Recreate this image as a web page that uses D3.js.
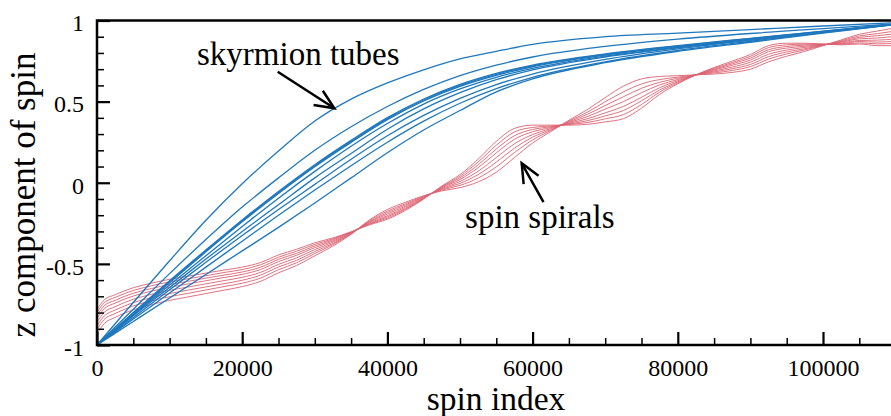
<!DOCTYPE html>
<html>
<head>
<meta charset="utf-8">
<script src="https://cdn.jsdelivr.net/npm/d3@7"></script>
<style>
body { margin: 0; background: #fff; }
</style>
</head>
<body>
<svg id="chart" width="891" height="416"></svg>
<script>
// tick values
var xTicks = [0, 20000, 40000, 60000, 80000, 100000]
var xMinor = [5000, 10000, 15000, 25000, 30000, 35000, 45000, 50000, 55000, 65000, 70000, 75000, 85000, 90000, 95000, 105000]
var yTicks = [-1, -0.5, 0, 0.5, 1]
var yMinor = [-0.9, -0.8, -0.7, -0.6, -0.4, -0.3, -0.2, -0.1, 0.1, 0.2, 0.3, 0.4, 0.6, 0.7, 0.8, 0.9]

// skyrmion tubes (blue)
var blueX = [0, 5000, 10000, 15000, 20000, 25000, 30000, 35000, 40000, 45000, 50000, 55000, 60000, 70000, 80000, 90000, 100000, 110000]
var tube1 = [-1, -0.738, -0.481, -0.231, -0.006, 0.195, 0.38, 0.515, 0.615, 0.696, 0.763, 0.81, 0.853, 0.9, 0.922, 0.944, 0.966, 0.987]
var tube2 = [-1, -0.78, -0.56, -0.35, -0.15, 0.03, 0.2, 0.345, 0.47, 0.575, 0.66, 0.725, 0.775, 0.84, 0.885, 0.92, 0.95, 0.98]
// three nearly coincident tubes make the thick line
var tube3 = [-1, -0.8, -0.604, -0.414, -0.229, -0.054, 0.111, 0.261, 0.401, 0.516, 0.606, 0.674, 0.725, 0.794, 0.845, 0.89, 0.934, 0.978]
var tube4 = [-1, -0.805, -0.61, -0.42, -0.235, -0.06, 0.105, 0.255, 0.395, 0.51, 0.6, 0.668, 0.72, 0.79, 0.842, 0.888, 0.933, 0.977]
var tube5 = [-1, -0.81, -0.616, -0.426, -0.241, -0.066, 0.099, 0.249, 0.389, 0.504, 0.594, 0.662, 0.715, 0.786, 0.839, 0.886, 0.932, 0.977]
var tube6 = [-1, -0.815, -0.63, -0.45, -0.27, -0.095, 0.07, 0.225, 0.365, 0.485, 0.578, 0.65, 0.705, 0.78, 0.835, 0.884, 0.93, 0.977]
var tube7 = [-1, -0.82, -0.645, -0.47, -0.3, -0.135, 0.03, 0.18, 0.33, 0.455, 0.555, 0.635, 0.695, 0.775, 0.832, 0.882, 0.93, 0.977]
var tube8 = [-1, -0.83, -0.66, -0.49, -0.325, -0.165, -0.01, 0.145, 0.29, 0.415, 0.52, 0.605, 0.67, 0.76, 0.825, 0.878, 0.928, 0.976]
var tube9 = [-1, -0.84, -0.68, -0.52, -0.36, -0.2, -0.045, 0.105, 0.25, 0.38, 0.49, 0.58, 0.65, 0.745, 0.815, 0.872, 0.925, 0.976]
var tube10 = [-1, -0.855, -0.71, -0.565, -0.42, -0.275, -0.125, 0.03, 0.185, 0.325, 0.445, 0.56, 0.64, 0.74, 0.81, 0.866, 0.922, 0.975]

// spin spirals (red)
var redX = [0, 1000, 2500, 5000, 7500, 10000, 12500, 15000, 17500, 20000, 22500, 25000, 27500, 30000, 32500, 35000, 37500, 40000, 42500, 45000, 47500, 50000, 52500, 55000, 57500, 60000, 62500, 65000, 67500, 70000, 72500, 75000, 77500, 80000, 82500, 85000, 87500, 90000, 92500, 95000, 97500, 100000, 102500, 105000, 107500, 110000]
var spiral1 = [-0.78, -0.722, -0.69, -0.647, -0.619, -0.595, -0.576, -0.557, -0.538, -0.52, -0.492, -0.445, -0.41, -0.37, -0.34, -0.302, -0.26, -0.225, -0.17, -0.1, -0.02, 0.05, 0.145, 0.255, 0.335, 0.355, 0.355, 0.355, 0.36, 0.375, 0.395, 0.46, 0.545, 0.61, 0.665, 0.71, 0.75, 0.79, 0.845, 0.86, 0.86, 0.855, 0.85, 0.855, 0.845, 0.845]
var spiral2 = [-0.799, -0.74, -0.707, -0.664, -0.635, -0.611, -0.592, -0.573, -0.553, -0.535, -0.506, -0.459, -0.422, -0.38, -0.346, -0.304, -0.256, -0.218, -0.164, -0.098, -0.024, 0.04, 0.128, 0.231, 0.313, 0.341, 0.35, 0.359, 0.371, 0.394, 0.42, 0.482, 0.559, 0.616, 0.665, 0.705, 0.741, 0.779, 0.833, 0.85, 0.854, 0.854, 0.854, 0.862, 0.856, 0.859]
var spiral3 = [-0.817, -0.758, -0.725, -0.681, -0.652, -0.627, -0.608, -0.588, -0.569, -0.55, -0.521, -0.472, -0.435, -0.39, -0.352, -0.306, -0.253, -0.21, -0.158, -0.095, -0.027, 0.03, 0.11, 0.208, 0.29, 0.328, 0.345, 0.362, 0.382, 0.412, 0.445, 0.505, 0.572, 0.622, 0.665, 0.7, 0.733, 0.768, 0.82, 0.84, 0.848, 0.853, 0.857, 0.87, 0.867, 0.872]
var spiral4 = [-0.836, -0.777, -0.742, -0.698, -0.668, -0.644, -0.624, -0.604, -0.584, -0.565, -0.535, -0.486, -0.447, -0.4, -0.359, -0.308, -0.249, -0.203, -0.151, -0.093, -0.031, 0.02, 0.093, 0.184, 0.268, 0.314, 0.34, 0.366, 0.394, 0.431, 0.47, 0.527, 0.586, 0.629, 0.665, 0.695, 0.724, 0.756, 0.808, 0.83, 0.841, 0.851, 0.861, 0.877, 0.879, 0.886]
var spiral5 = [-0.859, -0.799, -0.764, -0.718, -0.688, -0.663, -0.643, -0.623, -0.603, -0.583, -0.553, -0.503, -0.463, -0.412, -0.366, -0.31, -0.244, -0.193, -0.144, -0.089, -0.036, 0.008, 0.071, 0.155, 0.24, 0.297, 0.334, 0.371, 0.407, 0.454, 0.5, 0.555, 0.603, 0.636, 0.665, 0.689, 0.713, 0.743, 0.792, 0.818, 0.834, 0.85, 0.866, 0.887, 0.892, 0.903]
var spiral6 = [-0.881, -0.821, -0.785, -0.739, -0.708, -0.683, -0.662, -0.642, -0.622, -0.601, -0.57, -0.519, -0.478, -0.424, -0.374, -0.313, -0.24, -0.184, -0.136, -0.086, -0.04, -0.004, 0.05, 0.127, 0.213, 0.281, 0.328, 0.375, 0.421, 0.476, 0.53, 0.582, 0.619, 0.644, 0.665, 0.683, 0.703, 0.729, 0.777, 0.806, 0.826, 0.848, 0.87, 0.896, 0.906, 0.919]
var spiral7 = [-0.904, -0.842, -0.806, -0.759, -0.728, -0.702, -0.682, -0.661, -0.64, -0.619, -0.588, -0.536, -0.493, -0.436, -0.381, -0.315, -0.235, -0.175, -0.129, -0.083, -0.045, -0.016, 0.029, 0.098, 0.186, 0.264, 0.322, 0.38, 0.434, 0.499, 0.56, 0.609, 0.636, 0.651, 0.665, 0.677, 0.692, 0.716, 0.762, 0.794, 0.819, 0.847, 0.875, 0.905, 0.919, 0.936]
var spiral8 = [-0.93, -0.868, -0.83, -0.783, -0.751, -0.725, -0.704, -0.683, -0.662, -0.64, -0.608, -0.555, -0.51, -0.45, -0.39, -0.318, -0.23, -0.165, -0.12, -0.08, -0.05, -0.03, 0.005, 0.065, 0.155, 0.245, 0.315, 0.385, 0.45, 0.525, 0.595, 0.64, 0.655, 0.66, 0.665, 0.67, 0.68, 0.7, 0.745, 0.78, 0.81, 0.845, 0.88, 0.915, 0.935, 0.955]

var tubes = [tube1, tube2, tube3, tube4, tube5, tube6, tube7, tube8, tube9, tube10]
var spirals = [spiral1, spiral2, spiral3, spiral4, spiral5, spiral6, spiral7, spiral8]

var blue = "#1f78be"
var red = "#dc6272"
var serif = '"Liberation Serif", "Times New Roman", serif'

var svg = d3.select("#chart").style("font-family", serif);

var x = d3.scaleLinear().domain([0, 110000]).range([97, 895.6]);
var y = d3.scaleLinear().domain([-1, 1]).range([345, 20.5]);

function lineFor(xs) {
    return d3.line()
        .x(function(d, i) { return x(xs[i]); })
        .y(function(d) { return y(d); })
        .curve(d3.curveMonotoneX);
}

//spin spirals first, the tubes are drawn over them
svg.append("g").selectAll("path")
    .data(spirals)
    .enter().append("path")
    .attr("d", lineFor(redX))
    .attr("fill", "none")
    .attr("stroke", red)
    .attr("stroke-width", 0.9);

svg.append("g").selectAll("path")
    .data(tubes)
    .enter().append("path")
    .attr("d", lineFor(blueX))
    .attr("fill", "none")
    .attr("stroke", blue)
    .attr("stroke-width", 1.3);

// minor ticks
svg.append("g")
    .attr("transform", "translate(0,345)")
    .call(d3.axisBottom(x).tickValues(xMinor).tickSizeInner(-7).tickSizeOuter(0).tickFormat(""))
    .call(function(g) { g.select(".domain").remove(); g.selectAll("line").attr("stroke-width", 1.5); });

svg.append("g")
    .attr("transform", "translate(97,0)")
    .call(d3.axisLeft(y).tickValues(yMinor).tickSizeInner(-7).tickSizeOuter(0).tickFormat(""))
    .call(function(g) { g.select(".domain").remove(); g.selectAll("line").attr("stroke-width", 1.5); });

// major ticks + labels
svg.append("g")
    .attr("transform", "translate(0,345)")
    .call(d3.axisBottom(x).tickValues(xTicks).tickSizeInner(-13).tickSizeOuter(0).tickPadding(14).tickFormat(function(d) { return String(d); }))
    .call(function(g) {
        g.attr("font-family", null).attr("font-size", null);
        g.select(".domain").remove();
        g.selectAll("line").attr("stroke-width", 2.2);
        g.selectAll("text").attr("fill", "#000").style("font-family", serif).style("font-size", "24px");
    });

svg.append("g")
    .attr("transform", "translate(97,0)")
    .call(d3.axisLeft(y).tickValues(yTicks).tickSizeInner(-13).tickSizeOuter(0).tickPadding(13).tickFormat(function(d) { return String(d); }))
    .call(function(g) {
        g.attr("font-family", null).attr("font-size", null);
        g.select(".domain").remove();
        g.selectAll("line").attr("stroke-width", 2.2);
        g.selectAll("text").attr("fill", "#000").attr("dy", "0.43em").style("font-family", serif).style("font-size", "24px");
    });

// frame
svg.append("rect")
    .attr("x", x(0))
    .attr("y", y(1))
    .attr("width", x(110000) - x(0))
    .attr("height", y(-1) - y(1))
    .attr("fill", "none")
    .attr("stroke", "#000")
    .attr("stroke-width", 2.5);

// axis titles
svg.append("text")
    .attr("x", 496)
    .attr("y", 410)
    .attr("text-anchor", "middle")
    .style("font-family", serif)
    .style("font-size", "33.5px")
    .text("spin index");

svg.append("text")
    .attr("transform", "translate(35,195) rotate(-90)")
    .attr("text-anchor", "middle")
    .style("font-family", serif)
    .style("font-size", "35px")
    .text("z component of spin");

// annotations
svg.append("text")
    .attr("x", x(13770))
    .attr("y", y(0.726))
    .style("font-family", serif)
    .style("font-size", "33px")
    .text("skyrmion tubes");

svg.append("text")
    .attr("x", x(50700))
    .attr("y", y(-0.281))
    .style("font-family", serif)
    .style("font-size", "33px")
    .text("spin spirals");

function arrow(x1, y1, x2, y2) {
    var ax = x(x1), ay = y(y1), bx = x(x2), by = y(y2);
    var ang = Math.atan2(by - ay, bx - ax);
    var len = 21, spread = 24 * Math.PI / 180;
    var g = svg.append("g").attr("stroke", "#000").attr("stroke-width", 2.5).attr("fill", "none");
    g.append("line").attr("x1", ax).attr("y1", ay).attr("x2", bx).attr("y2", by);
    g.append("path")
        .attr("stroke-linejoin", "miter")
        .attr("d", "M" + (bx - len * Math.cos(ang - spread)) + "," + (by - len * Math.sin(ang - spread)) +
            "L" + bx + "," + by +
            "L" + (bx - len * Math.cos(ang + spread)) + "," + (by - len * Math.sin(ang + spread)));
}

arrow(24890, 0.684, 32690, 0.459);
arrow(61500, -0.119, 58500, 0.12);
</script>
</body>
</html>
